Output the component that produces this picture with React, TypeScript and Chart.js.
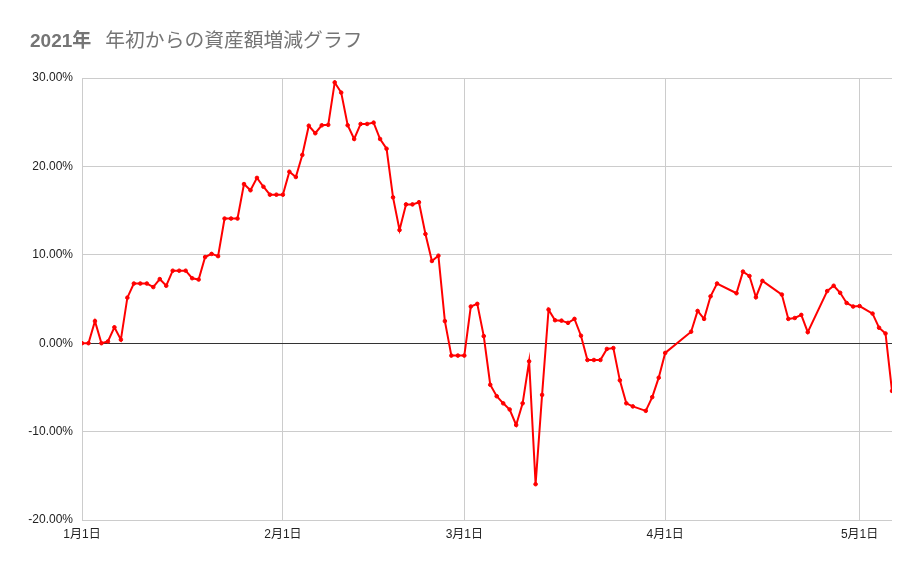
import { useEffect, useRef } from 'react'
import { Chart, registerables } from 'chart.js'

Chart.register(...registerables)

// dates (2021) and change since Jan 1 in %
const dates = [
  '01-01', '01-02', '01-03', '01-04', '01-05', '01-06', '01-07', '01-08', '01-09', '01-10',
  '01-11', '01-12', '01-13', '01-14', '01-15', '01-16', '01-17', '01-18', '01-19', '01-20',
  '01-21', '01-22', '01-23', '01-24', '01-25', '01-26', '01-27', '01-28', '01-29', '01-30',
  '01-31', '02-01', '02-02', '02-03', '02-04', '02-05', '02-06', '02-07', '02-08', '02-09',
  '02-10', '02-11', '02-12', '02-13', '02-14', '02-15', '02-16', '02-17', '02-18', '02-19',
  '02-20', '02-21', '02-22', '02-23', '02-24', '02-25', '02-26', '02-27', '02-28', '03-01',
  '03-02', '03-03', '03-04', '03-05', '03-06', '03-07', '03-08', '03-09', '03-10', '03-11',
  '03-12', '03-13', '03-14', '03-15', '03-16', '03-17', '03-18', '03-19', '03-20', '03-21',
  '03-22', '03-23', '03-24', '03-25', '03-26', '03-27', '03-29', '03-30', '03-31', '04-01',
  '04-05', '04-06', '04-07', '04-08', '04-09', '04-12', '04-13', '04-14', '04-15', '04-16',
  '04-19', '04-20', '04-21', '04-22', '04-23', '04-26', '04-27', '04-28', '04-29', '04-30',
  '05-01', '05-03', '05-04', '05-05', '05-06',
]

const changes = [
  0.0, 0.0, 2.5, 0.0, 0.2, 1.8, 0.4, 5.15, 6.75, 6.75,
  6.75, 6.35, 7.25, 6.5, 8.2, 8.2, 8.2, 7.35, 7.2, 9.75,
  10.1, 9.85, 14.1, 14.1, 14.1, 18.0, 17.3, 18.7, 17.7, 16.8,
  16.8, 16.8, 19.4, 18.8, 21.3, 24.6, 23.75, 24.65, 24.7, 29.5,
  28.35, 24.65, 23.1, 24.8, 24.8, 24.95, 23.1, 22.0, 16.5, 12.8,
  15.7, 15.7, 15.95, 12.35, 9.3, 9.9, 2.5, -1.4, -1.4, -1.4,
  4.15, 4.45, 0.8, -4.7, -6.0, -6.8, -7.5, -9.25, -6.8, -2.05,
  -15.95, -5.85, 3.8, 2.6, 2.55, 2.3, 2.75, 0.85, -1.9, -1.9,
  -1.9, -0.65, -0.55, -4.2, -6.8, -7.15, -7.65, -6.1, -3.9, -1.1,
  1.3, 3.65, 2.75, 5.3, 6.75, 5.65, 8.1, 7.6, 5.2, 7.05,
  5.5, 2.75, 2.85, 3.2, 1.25, 5.9, 6.5, 5.7, 4.55, 4.15,
  4.2, 3.35, 1.75, 1.1, -5.4,
]

const tickDates = ['01-01', '02-01', '03-01', '04-01', '05-01']
const tickLabels = ['1月1日', '2月1日', '3月1日', '4月1日', '5月1日']
const lastDate = '05-06'

const yMin = -20
const yMax = 30
const yStep = 10

/** days since Jan 1 2021 for "MM-DD" */
function dayOf(md: string): number {
  const [m, d] = md.split('-').map(Number)
  return Math.round((Date.UTC(2021, m - 1, d) - Date.UTC(2021, 0, 1)) / 86400000)
}

const FONT = "Arial, 'Liberation Sans', 'Noto Sans CJK JP', sans-serif"

export default function App() {
  const canvasRef = useRef<HTMLCanvasElement>(null)
  const chartRef = useRef<Chart | null>(null)

  useEffect(() => {
    if (!canvasRef.current) return
    const ctx = canvasRef.current.getContext('2d')
    if (!ctx) return

    const points = dates.map((d, i) => ({ x: dayOf(d), y: changes[i] }))
    const tickDays = tickDates.map(dayOf)

    chartRef.current = new Chart(ctx, {
      type: 'line',
      data: {
        datasets: [
          {
            data: points,
            borderColor: '#ff0000',
            backgroundColor: '#ff0000',
            borderWidth: 2,
            pointRadius: 1.8,
            pointBorderWidth: 1,
            pointBackgroundColor: '#ff0000',
            tension: 0,
          },
        ],
      },
      options: {
        responsive: true,
        maintainAspectRatio: false,
        animation: false,
        layout: { padding: { top: 78, right: 29, left: 0, bottom: 0 } },
        plugins: {
          legend: { display: false },
          tooltip: { enabled: false },
        },
        scales: {
          x: {
            type: 'linear',
            min: 0,
            max: dayOf(lastDate),
            afterBuildTicks: (s) => {
              s.ticks = tickDays.map((v) => ({ value: v }))
            },
            afterFit: (s) => {
              s.height = 49
            },
            grid: { color: '#cccccc', drawTicks: false },
            border: { display: false },
            ticks: {
              autoSkip: false,
              maxRotation: 0,
              padding: 7,
              color: '#222222',
              font: { size: 12, family: FONT },
              callback: (v) => tickLabels[tickDays.indexOf(Number(v))] ?? '',
            },
          },
          y: {
            min: yMin,
            max: yMax,
            afterFit: (s) => {
              s.width = 82
            },
            grid: {
              drawTicks: false,
              color: (c) => (c.tick && c.tick.value === 0 ? '#333333' : '#cccccc'),
            },
            border: { display: false },
            ticks: {
              stepSize: yStep,
              padding: 9,
              color: '#222222',
              font: { size: 12, family: FONT },
              callback: (v) => Number(v).toFixed(2) + '%',
            },
          },
        },
      },
    })

    return () => {
      if (chartRef.current) {
        chartRef.current.destroy()
        chartRef.current = null
      }
    }
  }, [])

  return (
    <div style={{ position: 'fixed', left: 0, top: 0, width: 921, height: 569, background: '#fff' }}>
      <div
        style={{
          position: 'absolute',
          left: 30,
          top: 28,
          fontSize: 19,
          lineHeight: '24px',
          color: '#757575',
          fontFamily: FONT,
          whiteSpace: 'pre',
        }}
      >
        <span style={{ fontWeight: 'bold' }}>2021年</span>
        <span style={{ paddingLeft: 14, fontSize: 19.8 }}>年初からの資産額増減グラフ</span>
      </div>
      <canvas ref={canvasRef} />
    </div>
  )
}
